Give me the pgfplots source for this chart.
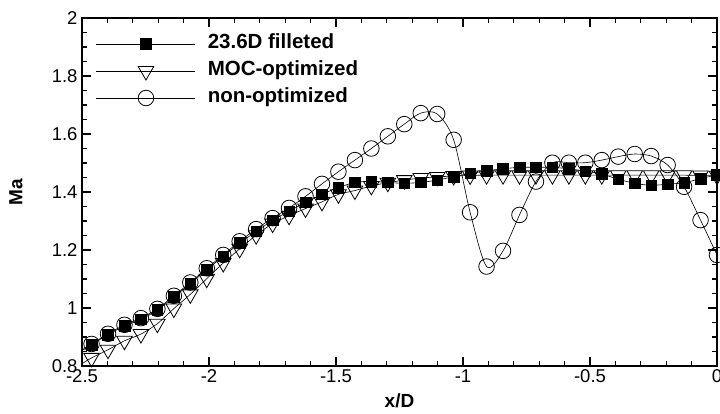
\documentclass[border=0pt]{standalone}
\usepackage{pgfplots}
\pgfplotsset{compat=1.18}
\usepackage{pgfplotstable}
\usepackage{fontspec}
\setmainfont{Liberation Sans}

% Mach number along the nozzle axis (x/D); the first row only starts the lines at x/D = -2.5
\pgfplotstableread{
x        sq     moc    non
-2.5000  0.853  0.808  0.856
-2.4624  0.873  0.828  0.876
-2.3976  0.908  0.856  0.911
-2.3328  0.938  0.887  0.942
-2.2680  0.961  0.910  0.965
-2.2032  0.993  0.946  0.997
-2.1384  1.038  0.998  1.042
-2.0736  1.084  1.047  1.088
-2.0088  1.132  1.101  1.137
-1.9440  1.178  1.155  1.183
-1.8792  1.224  1.204  1.230
-1.8144  1.264  1.251  1.272
-1.7496  1.302  1.291  1.310
-1.6848  1.334  1.318  1.345
-1.6200  1.364  1.343  1.385
-1.5552  1.392  1.366  1.428
-1.4904  1.415  1.392  1.470
-1.4256  1.433  1.405  1.510
-1.3608  1.436  1.421  1.550
-1.2960  1.433  1.432  1.592
-1.2312  1.430  1.441  1.634
-1.1664  1.433  1.448  1.672
-1.1016  1.441  1.452  1.669
-1.0368  1.453  1.455  1.580
-0.9720  1.464  1.457  1.330
-0.9072  1.473  1.458  1.143
-0.8424  1.480  1.458  1.197
-0.7776  1.485  1.458  1.321
-0.7128  1.485  1.458  1.436
-0.6480  1.485  1.458  1.501
-0.5832  1.480  1.458  1.501
-0.5184  1.472  1.458  1.501
-0.4536  1.462  1.458  1.510
-0.3888  1.444  1.458  1.522
-0.3240  1.430  1.458  1.531
-0.2592  1.423  1.458  1.524
-0.1944  1.427  1.458  1.493
-0.1296  1.432  1.458  1.418
-0.0648  1.446  1.457  1.303
 0.0000  1.459  1.456  1.183
}\machdata

\begin{document}
\begin{tikzpicture}
\begin{axis}[
  name=ax,
  scale only axis, width=635bp, height=348bp,
  xmin=-2.5, xmax=0, ymin=0.8, ymax=2,
  xtick={-2.5,-2,-1.5,-1,-0.5,0},
  ytick={0.8,1,1.2,1.4,1.6,1.8,2},
  minor x tick num=4, minor y tick num=3,
  tick align=inside,
  major tick length=9bp, minor tick length=5bp,
  every tick/.style={black, line width=1.2bp},
  axis line style={line width=1.8bp},
  /pgf/number format/assume math mode=true,
  /pgf/number format/fixed,
  tick label style={font=\fontsize{18.5bp}{22bp}\selectfont},
  yticklabel style={xshift=-1bp},
  xlabel={x/D}, ylabel={Ma},
  label style={font=\bfseries\fontsize{19bp}{23bp}\selectfont},
  xlabel style={at={(axis description cs:0.5,-0.1006)}, anchor=center},
  ylabel style={at={(axis description cs:-0.104,0.5)}, anchor=center},
  reverse legend,
  legend cell align=left,
  legend style={at={(axis description cs:0.022,0.956)}, anchor=north west,
    draw=none, fill=none, inner sep=0pt, row sep=6bp,
    font=\bfseries\fontsize{20.5bp}{24bp}\selectfont,
    nodes={inner sep=2bp, text height=13bp, text depth=4bp}},
  /tikz/every odd column/.append style={column sep=10bp},
  legend image code/.code={%
    \draw[#1, mark=none] (0bp,0bp) -- (99bp,0bp);
    \draw[#1, only marks, mark indices={1}] plot coordinates {(49.5bp,0bp)};},
]
% non-optimized contour
\addplot[black, line width=0.6bp, smooth, mark=o, mark size=7.8bp,
  mark options={line width=0.8bp}, mark indices={2,...,40}]
  table[x=x, y=non] {\machdata};
\addlegendentry{non-optimized}
% MOC-optimized contour
\addplot[black, line width=0.6bp, smooth, mark=triangle, mark size=9bp,
  mark options={rotate=180, line width=0.8bp}, mark indices={2,...,40}]
  table[x=x, y=moc] {\machdata};
\addlegendentry{MOC-optimized}
% 23.6D filleted contour
\addplot[black, line width=0.6bp, smooth, mark=square*, mark size=5.3bp,
  mark options={line width=0.5bp}, mark indices={2,...,40}]
  table[x=x, y=sq] {\machdata};
\addlegendentry{23.6D filleted}
\end{axis}
\pgfresetboundingbox
\path ([shift={(-82bp,-48bp)}]ax.south west) rectangle ([shift={(3bp,18bp)}]ax.north east);
\end{tikzpicture}
\end{document}
